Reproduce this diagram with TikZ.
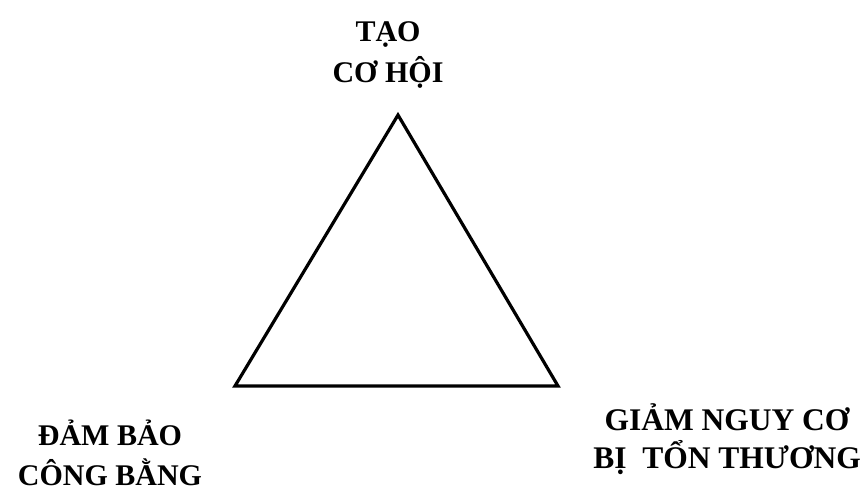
\documentclass[tikz,border=0pt]{standalone}
\usepackage{fontspec}
\setmainfont{Liberation Serif}
\usepackage{tikz}
\usetikzlibrary{positioning}

\begin{document}
\begin{tikzpicture}[
  x=1pt, y=-1pt,
  lbl/.style={align=center, anchor=base, font=\fontsize{30}{41}\selectfont\bfseries, inner sep=0pt},
  tri/.style={draw=black, line width=3.2pt, line join=miter}
]
\useasboundingbox (0,0) rectangle (866,493);
\coordinate (top) at (398,115);
\coordinate (lft) at (235,386);
\coordinate (rgt) at (558,386);
\draw[tri] (top) -- (lft) -- (rgt) -- cycle;
\node[lbl] (taocohoi) at (388,82) {TẠO\\CƠ HỘI};
\node[lbl, font=\fontsize{30}{40}\selectfont\bfseries] (congbang) at (110,485) {ĐẢM BẢO\\CÔNG BẰNG};
\node[lbl, font=\fontsize{31.5}{38}\selectfont\bfseries] (nguyco) at (727,468) {GIẢM NGUY CƠ\\BỊ\ \ TỔN THƯƠNG};
\end{tikzpicture}
\end{document}
